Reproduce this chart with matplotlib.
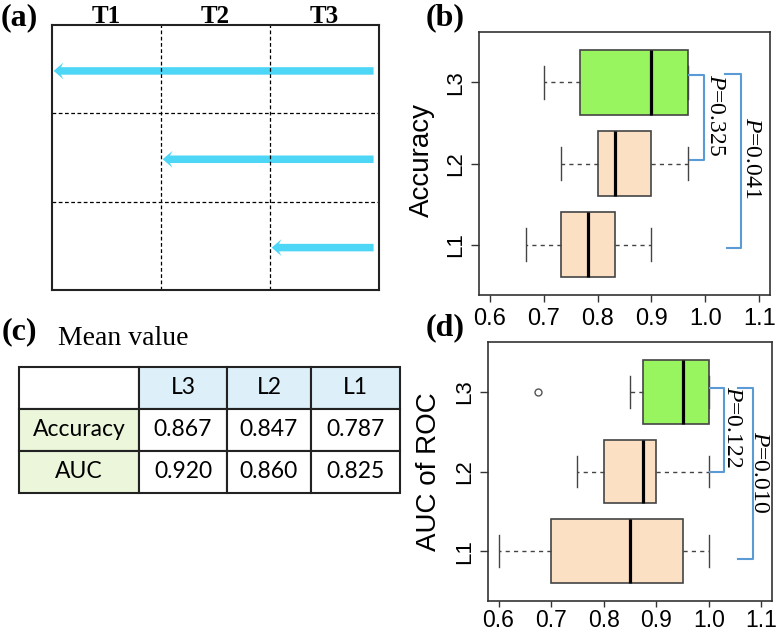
import numpy as np
import matplotlib.pyplot as plt
from matplotlib.transforms import blended_transform_factory

plt.rcParams['font.family'] = ['Liberation Sans', 'DejaVu Sans']
plt.rcParams['mathtext.fontset'] = 'custom'
plt.rcParams['mathtext.rm'] = 'Liberation Serif'
plt.rcParams['mathtext.it'] = 'Liberation Serif:italic'

W, H = 780, 635

# panel (a): every arrow starts in T3 and runs back to this column edge
stage_labels = ['T1', 'T2', 'T3']
arrow_reach = [0, 1, 2]

# panels (b) and (d): box summaries, ordered L1, L2, L3
levels = ['L1', 'L2', 'L3']
acc_lo = [0.667, 0.733, 0.700]
acc_q1 = [0.733, 0.800, 0.767]
acc_med = [0.783, 0.833, 0.900]
acc_q3 = [0.833, 0.900, 0.967]
acc_hi = [0.900, 0.967, 0.967]
acc_out = [[], [], []]
acc_pvals = ['0.325', '0.041']

auc_lo = [0.60, 0.75, 0.85]
auc_q1 = [0.70, 0.80, 0.875]
auc_med = [0.85, 0.875, 0.95]
auc_q3 = [0.95, 0.90, 1.00]
auc_hi = [1.00, 1.00, 1.00]
auc_out = [[], [], [0.675]]
auc_pvals = ['0.122', '0.010']

# panel (c): mean values
table_cols = ['L3', 'L2', 'L1']
table_rows = ['Accuracy', 'AUC']
mean_acc = [0.867, 0.847, 0.787]
mean_auc = [0.920, 0.860, 0.825]

cyan = '#4DD6F5'
green = '#99F55F'
peach = '#FCE0C4'
blue = '#5B9BD5'


def rect(l, t, r, b):
    return [l / W, 1 - b / H, (r - l) / W, (b - t) / H]


def fx(x):
    return x / W


def fy(y):
    return 1 - y / H


fig = plt.figure(figsize=(7.8, 6.35), dpi=100)

# ---- (a) ----
ax = fig.add_axes(rect(52, 25, 379, 290))
ax.set_xlim(0, 3)
ax.set_ylim(3, 0)
for v in (1, 2):
    ax.axvline(v, color='k', lw=0.9, ls=(0, (3, 2)))
    ax.axhline(v, color='k', lw=0.9, ls=(0, (3, 2)))
for i, reach in enumerate(arrow_reach):
    ax.arrow(2.95, i + 0.52, reach + 0.015 - 2.95, 0, width=0.085, head_width=0.19,
             head_length=0.09, overhang=0.25, length_includes_head=True,
             color=cyan, lw=0)
ax.set_xticks([])
ax.set_yticks([])
for s in ax.spines.values():
    s.set_linewidth(1.5)
    s.set_color('#222')
tr = blended_transform_factory(ax.transData, fig.transFigure)
for i, lab in enumerate(stage_labels):
    fig.text(i + 0.5, fy(23), lab, transform=tr, ha='center', va='baseline',
             fontsize=18, fontweight='bold', fontfamily='Liberation Serif')

# ---- boxplot panels ----
def box_panel(box, lo, q1, med, q3, hi, out, ylabel, lab_x, lab_y, xpad, xsize, xlen):
    ax = fig.add_axes(rect(*box))
    stats = [dict(whislo=lo[i], q1=q1[i], med=med[i], q3=q3[i], whishi=hi[i],
                  fliers=out[i]) for i in range(3)]
    res = ax.bxp(stats, positions=[1, 2, 3], widths=0.8, capwidths=0.4,
                 orientation='horizontal', patch_artist=True, showfliers=True,
                 boxprops=dict(edgecolor='#444', linewidth=1.2),
                 whiskerprops=dict(color='#444', linestyle=(0, (3, 3)), linewidth=1),
                 capprops=dict(color='#444', linewidth=1),
                 medianprops=dict(color='k', linewidth=2.3),
                 flierprops=dict(marker='o', markerfacecolor='none',
                                 markeredgecolor='#555', markersize=5))
    for i, b in enumerate(res['boxes']):
        b.set_facecolor(green if i == 2 else peach)
    ax.set_xlim(0.58, 1.12)
    ax.set_ylim(0.38, 3.62)
    ticks = np.round(np.arange(0.6, 1.11, 0.1), 1)
    ax.set_xticks(ticks)
    ax.set_xticklabels(['%.1f' % t for t in ticks])
    ax.set_yticks([1, 2, 3])
    ax.set_yticklabels(levels, rotation=90, va='center')
    ax.tick_params(axis='x', length=xlen, width=1, color='#333', labelsize=xsize, pad=xpad)
    ax.tick_params(axis='y', length=6, width=1, color='#333', labelsize=16, pad=3.5)
    for s in ax.spines.values():
        s.set_linewidth(1.2)
        s.set_color('#333')
    ax.text(lab_x, lab_y, ylabel, transform=ax.transAxes, rotation=90,
            ha='center', va='center', fontsize=20)
    return ax


def bracket(ax, x0, x1, x2, ytop, ybot, tx, ty, p):
    ax.plot([x0, x1, x1, x2], [ytop, ytop, ybot, ybot], color=blue, lw=1.5,
            clip_on=False)
    ax.text(tx, ty, r'$P$=' + p, rotation=-90, ha='center', va='center',
            fontsize=17, fontfamily='Liberation Serif')


axb = box_panel((479, 32, 770, 295), acc_lo, acc_q1, acc_med, acc_q3, acc_hi,
                acc_out, 'Accuracy', -0.196, 0.513, 4, 17, 5)
bracket(axb, 0.969, 0.997, 0.972, 3.09, 2.04, 1.019, 2.595, acc_pvals[0])
bracket(axb, 1.036, 1.066, 1.040, 3.10, 0.96, 1.085, 2.07, acc_pvals[1])

axd = box_panel((488, 342, 772, 601), auc_lo, auc_q1, auc_med, auc_q3, auc_hi,
                auc_out, 'AUC of ROC', -0.208, 0.5, 1, 16.5, 4.5)
bracket(axd, 1.0015, 1.028, 1.003, 3.04, 1.99, 1.044, 2.56, auc_pvals[0])
bracket(axd, 1.055, 1.083, 1.055, 3.05, 0.90, 1.097, 1.99, auc_pvals[1])

# ---- (c) table ----
axt = fig.add_axes(rect(19, 367, 400, 493))
axt.axis('off')
cells = [[''] + table_cols,
         [table_rows[0]] + ['%.3f' % v for v in mean_acc],
         [table_rows[1]] + ['%.3f' % v for v in mean_auc]]
head_blue = '#DDEFF8'
head_green = '#EBF6DA'
colours = [['white', head_blue, head_blue, head_blue],
           [head_green, 'white', 'white', 'white'],
           [head_green, 'white', 'white', 'white']]
widths = np.array([120, 88, 84, 89], dtype=float)
tbl = axt.table(cellText=cells, cellColours=colours, cellLoc='center',
                bbox=[0, 0, 1, 1], colWidths=list(widths / widths.sum()))
tbl.auto_set_font_size(False)
tbl.set_fontsize(16.5)
for cell in tbl.get_celld().values():
    cell.set_linewidth(1.5)
    cell.set_edgecolor('#222')
    cell.get_text().set_fontfamily('Lato')

# ---- panel letters ----
for x, y, s in [(1, 25, '(a)'), (426, 25, '(b)'), (2, 339, '(c)'), (426, 335, '(d)')]:
    fig.text(fx(x), fy(y), s, ha='left', va='baseline', fontsize=23,
             fontweight='bold', fontfamily='Liberation Serif')
fig.text(fx(58), fy(345), 'Mean value', ha='left', va='baseline', fontsize=20,
         fontfamily='Liberation Serif')

fig.savefig('out.png', dpi=100)
